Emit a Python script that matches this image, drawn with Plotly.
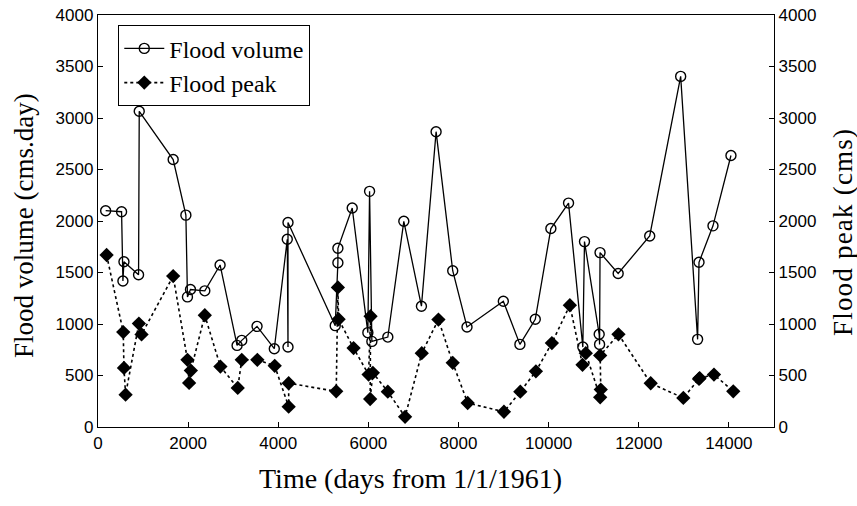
import plotly.graph_objects as go

# Flood volume (cms.day) events
vol_days = [170, 523, 553, 576, 900, 915, 1668, 1950, 1985, 2052, 2370, 2709, 3086, 3190, 3529,
            3912, 4200, 4216, 4216, 5264, 5323, 5323, 5641, 5988, 6026, 6077, 6431, 6786, 7177,
            7502, 7871, 8188, 8994, 9362, 9703, 10049, 10441, 10758, 10795, 11121, 11130, 11140,
            11542, 12242, 12929, 13305, 13336, 13646, 14045]
vol_values = [2100, 2090, 1417, 1605, 1478, 3065, 2597, 2057, 1263, 1335, 1322, 1573, 792, 841, 977,
              760, 1823, 776, 1985, 984, 1595, 1735, 2126, 916, 2288, 831, 873, 1997, 1173,
              2867, 1517, 971, 1221, 802, 1046, 1927, 2174, 776, 1800, 900, 802, 1693,
              1491, 1855, 3404, 851, 1599, 1953, 2636]

# Flood peak (cms) events
peak_days = [191, 560, 576, 612, 907, 966, 1668, 1985, 2022, 2060, 2370, 2716, 3101, 3190, 3536,
             3921, 4231, 4231, 5286, 5323, 5339, 5671, 6004, 6048, 6039, 6099, 6431, 6814, 7184,
             7554, 7871, 8203, 9008, 9371, 9717, 10071, 10470, 10751, 10824, 11143, 11156, 11143,
             11549, 12264, 12988, 13336, 13350, 13668, 14096]
peak_values = [1670, 922, 574, 314, 1004, 899, 1465, 652, 428, 548, 1085, 587, 379, 652, 652,
               594, 197, 425, 346, 1355, 1046, 766, 509, 1075, 272, 526, 343, 99, 717,
               1043, 623, 233, 148, 343, 541, 815, 1182, 604, 717, 288, 363, 695,
               900, 425, 282, 467, 475, 509, 346]

x_ticks = [0, 2000, 4000, 6000, 8000, 10000, 12000, 14000]
y_ticks = [0, 500, 1000, 1500, 2000, 2500, 3000, 3500, 4000]

SERIF = "Liberation Serif"
SANS = "Liberation Sans"

fig = go.Figure()
fig.add_trace(go.Scatter(
    x=vol_days, y=vol_values, name="Flood volume", mode="lines+markers",
    line=dict(color="black", width=1.3),
    marker=dict(symbol="circle-open", size=10, color="black", line=dict(width=1.4)),
))
fig.add_trace(go.Scatter(
    x=peak_days, y=peak_values, name="Flood peak", mode="lines+markers", yaxis="y2",
    line=dict(color="black", width=1.6, dash="dot"),
    marker=dict(symbol="diamond", size=11, color="black"),
))

axis_common = dict(
    showline=True, linecolor="black", linewidth=1.3, ticks="inside", ticklen=5,
    tickcolor="black", showgrid=False, zeroline=False, automargin=False,
    tickfont=dict(family=SANS, size=17, color="black"),
)


def spaced(text, px):
    return f"<span style='letter-spacing:{px}px'>{text}</span>"


fig.update_layout(
    width=857, height=506,
    margin=dict(l=98, r=83, t=15, b=79),
    paper_bgcolor="white", plot_bgcolor="white",
    showlegend=True,
    legend=dict(
        x=0.03, y=0.975, xanchor="left", yanchor="top",
        bgcolor="white", bordercolor="black", borderwidth=1,
        font=dict(family=SERIF, size=24, color="black"),
        tracegroupgap=0, itemwidth=40,
    ),
    xaxis=dict(
        range=[0, 15000], tickvals=x_ticks, ticktext=[str(v) for v in x_ticks],
        mirror=True, **axis_common,
    ),
    yaxis=dict(
        range=[0, 4000], tickvals=y_ticks, ticktext=[str(v) for v in y_ticks],
        **axis_common,
    ),
    yaxis2=dict(
        range=[0, 4000], tickvals=y_ticks, ticktext=[str(v) for v in y_ticks],
        overlaying="y", side="right", **axis_common,
    ),
    annotations=[
        dict(text="Time (days from 1/1/1961)", xref="paper", yref="paper",
             x=(410 - 98) / 676, y=(427 - 478) / 412, xanchor="center", yanchor="middle",
             showarrow=False, font=dict(family=SERIF, size=28, color="black")),
        dict(text="Flood volume (cms.day)", xref="paper", yref="paper",
             x=(24 - 98) / 676, y=(427 - 226) / 412, xanchor="center", yanchor="middle",
             textangle=-90, showarrow=False, font=dict(family=SERIF, size=27, color="black")),
        dict(text=spaced("Flood peak (cms)", 1.2), xref="paper", yref="paper",
             x=(843 - 98) / 676, y=(427 - 232) / 412, xanchor="center", yanchor="middle",
             textangle=-90, showarrow=False, font=dict(family=SERIF, size=27, color="black")),
    ],
)

fig.write_html("out.html")
